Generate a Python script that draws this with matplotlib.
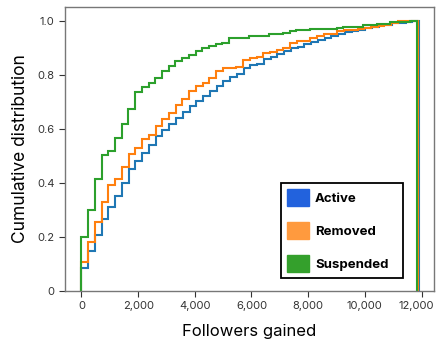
import numpy as np
import matplotlib
matplotlib.use('Agg')
import matplotlib.pyplot as plt
from matplotlib.patches import Patch
from matplotlib.ticker import FuncFormatter
from matplotlib.transforms import ScaledTranslation

plt.rcParams['font.family'] = ['Inter', 'DejaVu Sans']

# cumulative share per bin (50 bins from 0 to each group's max)
active_cdf = [0.083, 0.148, 0.207, 0.266, 0.311, 0.352, 0.401, 0.451, 0.481, 0.509,
              0.540, 0.574, 0.595, 0.619, 0.641, 0.663, 0.684, 0.703, 0.721, 0.740,
              0.758, 0.777, 0.793, 0.805, 0.824, 0.836, 0.842, 0.858, 0.867, 0.876,
              0.888, 0.900, 0.904, 0.913, 0.920, 0.931, 0.936, 0.943, 0.952, 0.958,
              0.962, 0.968, 0.974, 0.979, 0.983, 0.985, 0.991, 0.993, 0.995, 1.0]
removed_cdf = [0.107, 0.181, 0.256, 0.330, 0.393, 0.416, 0.459, 0.506, 0.530, 0.564,
               0.577, 0.610, 0.637, 0.659, 0.688, 0.710, 0.741, 0.758, 0.770, 0.789,
               0.814, 0.826, 0.827, 0.830, 0.857, 0.863, 0.867, 0.881, 0.885, 0.891,
               0.901, 0.919, 0.925, 0.925, 0.937, 0.945, 0.952, 0.952, 0.961, 0.967,
               0.967, 0.970, 0.973, 0.978, 0.980, 0.985, 0.991, 0.998, 0.998, 1.0]
suspended_cdf = [0.198, 0.299, 0.415, 0.503, 0.519, 0.567, 0.617, 0.673, 0.735, 0.756,
                 0.770, 0.790, 0.814, 0.832, 0.852, 0.861, 0.874, 0.888, 0.898, 0.906,
                 0.913, 0.919, 0.935, 0.935, 0.938, 0.944, 0.944, 0.944, 0.951, 0.951,
                 0.957, 0.963, 0.966, 0.966, 0.969, 0.970, 0.970, 0.970, 0.974, 0.979,
                 0.979, 0.979, 0.983, 0.985, 0.987, 0.989, 0.995, 0.995, 0.995, 1.0]

max_followers = {'Active': 11915, 'Removed': 11880, 'Suspended': 11845}
labels = ['Active', 'Removed', 'Suspended']
line_colors = ['#1f77b4', '#ff7f0e', '#2ca02c']
legend_colors = ['#2262dd', '#ff9a3e', '#34a02c']
x_ticks = [0, 2000, 4000, 6000, 8000, 10000, 12000]
y_ticks = [0, 0.2, 0.4, 0.6, 0.8, 1.0]

fig = plt.figure(figsize=(4.36, 3.43), dpi=100)
ax = fig.add_axes([0.149, 0.152, 0.846, 0.828])

for lab, cdf, col in zip(labels, [active_cdf, removed_cdf, suspended_cdf], line_colors):
    edges = np.linspace(0, max_followers[lab], len(cdf) + 1)
    ax.stairs(cdf, edges, baseline=0, color=col, linewidth=1.5)

ax.set_xlim(-582, 12434)
ax.set_ylim(0, 1.052)
ax.set_xticks(x_ticks)
ax.set_yticks(y_ticks)
ax.xaxis.set_major_formatter(FuncFormatter(lambda v, p: '{:,}'.format(int(v))))
ax.yaxis.set_major_formatter(FuncFormatter(lambda v, p: '0' if v == 0 else '%.1f' % v))
ax.tick_params(labelsize=8, colors='#333333', length=4, width=0.8)
for s in ax.spines.values():
    s.set_color('#777777')
    s.set_linewidth(1.0)

# last x label would run past the figure edge, nudge it left
fig.canvas.draw()
last = ax.get_xticklabels()[-1]
last.set_transform(last.get_transform() + ScaledTranslation(-5 / 100, 0, fig.dpi_scale_trans))

ax.set_xlabel('Followers gained', fontsize=12, labelpad=9)
ax.set_ylabel('Cumulative distribution', fontsize=12.5, labelpad=6)

handles = [Patch(facecolor=c, edgecolor=c) for c in legend_colors]
leg = ax.legend(handles, labels, loc='lower left', bbox_to_anchor=(0.585, 0.044, 0.331, 0.3),
                mode='expand', prop={'weight': 'bold', 'size': 9.5}, frameon=True, fancybox=False,
                handlelength=1.65, handleheight=1.6, handletextpad=0.45,
                labelspacing=1.2, borderpad=0.5, borderaxespad=0)
leg.get_frame().set_edgecolor('black')
leg.get_frame().set_linewidth(1.3)
leg.get_frame().set_alpha(1)

fig.savefig('out.png', dpi=100)
